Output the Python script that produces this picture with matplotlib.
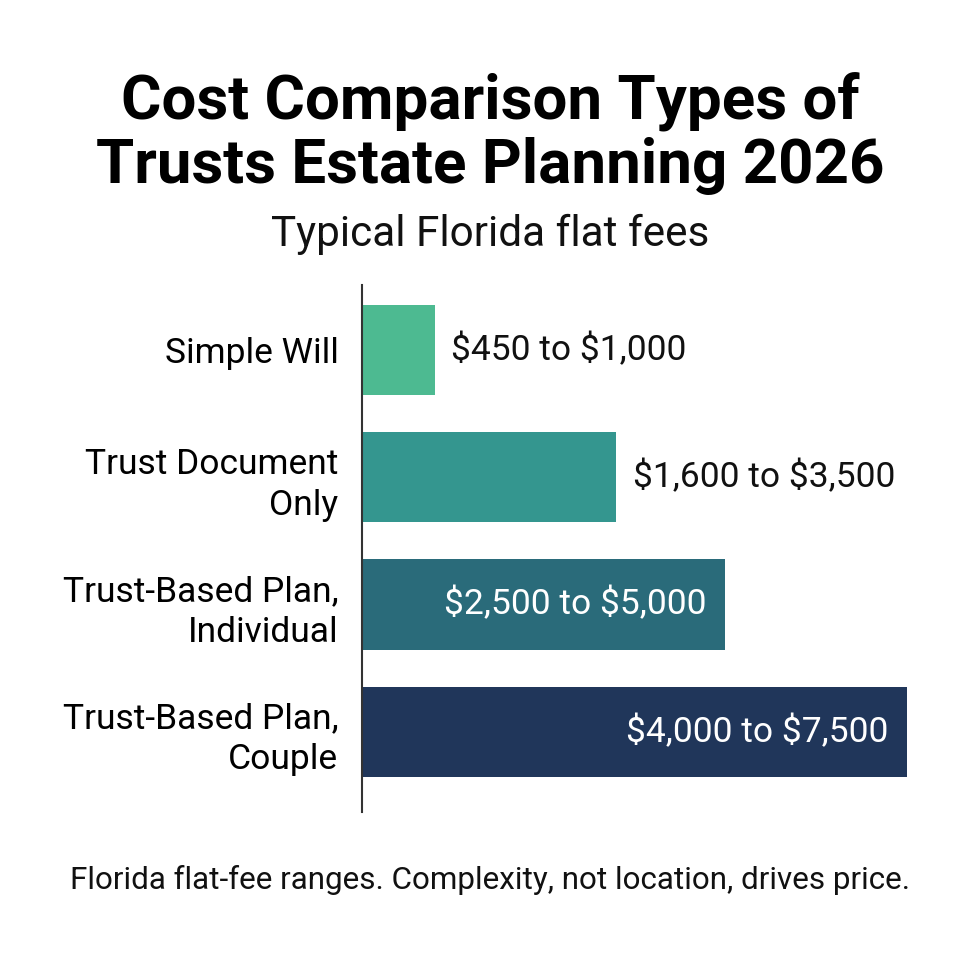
"""Horizontal bar chart: Florida trust / estate planning flat-fee ranges."""

import matplotlib

matplotlib.use("Agg")
import matplotlib.pyplot as plt

plt.rcParams["font.family"] = ["Roboto", "DejaVu Sans"]
plt.rcParams["text.parse_math"] = False

# Data
categories = [
    "Simple Will",
    "Trust Document\nOnly",
    "Trust-Based Plan,\nIndividual",
    "Trust-Based Plan,\nCouple",
]
low_fees = [450, 1600, 2500, 4000]
high_fees = [1000, 3500, 5000, 7500]
bar_colors = ["#4dba91", "#34968f", "#2a6b7a", "#20365a"]

fig = plt.figure(figsize=(9.8, 9.8), dpi=100)
ax = fig.add_axes([362 / 980, 1 - 812 / 980, (907 - 362) / 980, (812 - 285) / 980])

ypos = list(range(len(categories)))
ax.barh(ypos, high_fees, height=0.71, color=bar_colors)

for y, lo, hi in zip(ypos, low_fees, high_fees):
    label = f"${lo:,} to ${hi:,}"
    if hi >= 5000:
        # long bars: label sits inside, right-aligned, in white
        ax.text(hi - 260, y, label, ha="right", va="center",
                fontsize=25.5, color="white")
    else:
        ax.text(hi + 230, y, label, ha="left", va="center",
                fontsize=25.5, color="#111111")

ax.set_xlim(0, 7500)
ax.set_ylim(3.63, -0.51)
ax.set_yticks(ypos)
ax.set_yticklabels(categories, fontsize=25.5, linespacing=1.3)
ax.tick_params(axis="y", length=0, pad=17)
ax.set_xticks([])
for side in ("top", "right", "bottom"):
    ax.spines[side].set_visible(False)
ax.spines["left"].set_color("#333333")
ax.spines["left"].set_linewidth(1.5)

fig.text(0.5, 1 - 134 / 980, "Cost Comparison Types of\nTrusts Estate Planning 2026",
         ha="center", va="center", fontsize=44.6, fontweight="bold",
         linespacing=1.1, color="#000000")
fig.text(0.5, 1 - 234 / 980, "Typical Florida flat fees",
         ha="center", va="center", fontsize=30.4, color="#111111")
fig.text(0.5, 1 - 880 / 980,
         "Florida flat-fee ranges. Complexity, not location, drives price.",
         ha="center", va="center", fontsize=22.6, color="#111111")

fig.savefig("out.png", dpi=100, facecolor="white")
